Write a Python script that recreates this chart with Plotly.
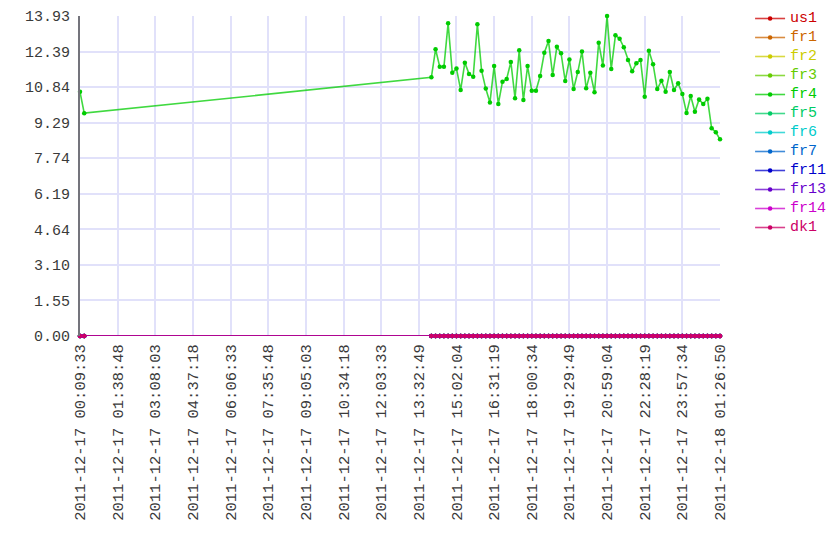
import plotly.graph_objects as go

series_names = ["us1", "fr1", "fr2", "fr3", "fr4", "fr5", "fr6", "fr7", "fr11", "fr13", "fr14", "dk1"]
series_colors = ["#cc0000", "#cc6600", "#cccc00", "#66cc00", "#00cc00", "#00cc66",
                 "#00cccc", "#0066cc", "#0000cc", "#6600cc", "#cc00cc", "#cc0066"]

times = [
    "2011-12-17 00:09:33", "2011-12-17 00:19:33",
    "2011-12-17 14:02:35", "2011-12-17 14:12:30", "2011-12-17 14:22:25", "2011-12-17 14:32:20",
    "2011-12-17 14:42:15", "2011-12-17 14:52:10", "2011-12-17 15:02:05", "2011-12-17 15:12:00",
    "2011-12-17 15:21:55", "2011-12-17 15:31:50", "2011-12-17 15:41:45", "2011-12-17 15:51:40",
    "2011-12-17 16:01:35", "2011-12-17 16:11:30", "2011-12-17 16:21:25", "2011-12-17 16:31:20",
    "2011-12-17 16:41:15", "2011-12-17 16:51:10", "2011-12-17 17:01:05", "2011-12-17 17:11:00",
    "2011-12-17 17:20:55", "2011-12-17 17:30:50", "2011-12-17 17:40:45", "2011-12-17 17:50:40",
    "2011-12-17 18:00:35", "2011-12-17 18:10:30", "2011-12-17 18:20:25", "2011-12-17 18:30:20",
    "2011-12-17 18:40:15", "2011-12-17 18:50:10", "2011-12-17 19:00:05", "2011-12-17 19:10:00",
    "2011-12-17 19:19:55", "2011-12-17 19:29:50", "2011-12-17 19:39:45", "2011-12-17 19:49:40",
    "2011-12-17 19:59:35", "2011-12-17 20:09:30", "2011-12-17 20:19:25", "2011-12-17 20:29:20",
    "2011-12-17 20:39:15", "2011-12-17 20:49:10", "2011-12-17 20:59:05", "2011-12-17 21:09:00",
    "2011-12-17 21:18:55", "2011-12-17 21:28:50", "2011-12-17 21:38:45", "2011-12-17 21:48:40",
    "2011-12-17 21:58:35", "2011-12-17 22:08:30", "2011-12-17 22:18:25", "2011-12-17 22:28:20",
    "2011-12-17 22:38:15", "2011-12-17 22:48:10", "2011-12-17 22:58:05", "2011-12-17 23:08:00",
    "2011-12-17 23:17:55", "2011-12-17 23:27:50", "2011-12-17 23:37:45", "2011-12-17 23:47:40",
    "2011-12-17 23:57:35", "2011-12-18 00:07:30", "2011-12-18 00:17:25", "2011-12-18 00:27:20",
    "2011-12-18 00:37:15", "2011-12-18 00:47:10", "2011-12-18 00:57:05", "2011-12-18 01:07:00",
    "2011-12-18 01:16:55", "2011-12-18 01:26:50",
]

fr4_values = [
    10.63, 9.70,
    11.26, 12.48, 11.72, 11.72, 13.61, 11.46, 11.64, 10.71, 11.90, 11.41,
    11.29, 13.57, 11.55, 10.77, 10.16, 11.75, 10.10, 11.07, 11.19, 11.93,
    10.35, 12.44, 10.27, 11.75, 10.68, 10.68, 11.32, 12.33, 12.84, 11.36,
    12.59, 12.31, 11.10, 12.04, 10.75, 11.49, 12.39, 10.78, 11.46, 10.61,
    12.77, 11.77, 13.93, 11.62, 13.09, 12.94, 12.57, 12.01, 11.52, 11.87,
    12.01, 10.42, 12.42, 11.83, 10.75, 11.11, 10.63, 11.49, 10.71, 11.00,
    10.53, 9.71, 10.45, 9.76, 10.30, 10.10, 10.33, 9.04, 8.87, 8.56,
]
zero_values = [0.0] * len(times)

x_tick_vals = [
    "2011-12-17 00:09:33", "2011-12-17 01:38:48", "2011-12-17 03:08:03", "2011-12-17 04:37:18",
    "2011-12-17 06:06:33", "2011-12-17 07:35:48", "2011-12-17 09:05:03", "2011-12-17 10:34:18",
    "2011-12-17 12:03:33", "2011-12-17 13:32:49", "2011-12-17 15:02:04", "2011-12-17 16:31:19",
    "2011-12-17 18:00:34", "2011-12-17 19:29:49", "2011-12-17 20:59:04", "2011-12-17 22:28:19",
    "2011-12-17 23:57:34", "2011-12-18 01:26:50",
]
y_tick_vals = [0.0, 1.548, 3.096, 4.643, 6.191, 7.739, 9.287, 10.834, 12.382, 13.93]
y_tick_text = ["0.00", "1.55", "3.10", "4.64", "6.19", "7.74", "9.29", "10.84", "12.39", "13.93"]


def rgba(hexc, a):
    h = hexc.lstrip("#")
    r, g, b = int(h[0:2], 16), int(h[2:4], 16), int(h[4:6], 16)
    return f"rgba({r},{g},{b},{a})"


FONT = "Liberation Mono, DejaVu Sans Mono, monospace"

fig = go.Figure()
for name, col in zip(series_names, series_colors):
    vals = fr4_values if name == "fr4" else zero_values
    fig.add_trace(go.Scatter(
        x=times, y=vals, mode="lines+markers",
        name=(f'<span style="color:{col};font-size:15px;'
              f'font-family:Liberation Mono,monospace">{name}</span>'),
        line=dict(color=rgba(col, 0.75), width=1.6),
        marker=dict(color=col, size=4.5),
        cliponaxis=False,
    ))

fig.update_layout(
    width=832, height=552,
    margin=dict(l=72, r=120, t=8, b=224, autoexpand=False),
    paper_bgcolor="white", plot_bgcolor="white",
    font=dict(family=FONT, size=15, color="#3a3a3a"),
    showlegend=True,
    legend=dict(x=1.047, xanchor="left", y=1.0375, yanchor="top",
                font=dict(family=FONT, size=10),
                bgcolor="rgba(0,0,0,0)", borderwidth=0, tracegroupgap=0,
                itemwidth=30),
    xaxis=dict(
        type="date",
        range=[x_tick_vals[0], x_tick_vals[-1]],
        tickmode="array", tickvals=x_tick_vals, ticktext=x_tick_vals,
        tickangle=-90, ticklabelstandoff=4,
        showgrid=True, gridcolor="#e1e1fa", gridwidth=1.5,
        showline=False, zeroline=False, ticks="",
        tickfont=dict(family=FONT, size=15.5, color="#3a3a3a"),
    ),
    yaxis=dict(
        range=[0, 13.93],
        tickmode="array", tickvals=y_tick_vals, ticktext=y_tick_text,
        ticklabelstandoff=5,
        showgrid=True, gridcolor="#e1e1fa", gridwidth=1.5,
        showline=True, linecolor="#74747c", linewidth=2,
        zeroline=False, ticks="",
        tickfont=dict(family=FONT, size=15, color="#3a3a3a"),
    ),
)

fig.write_html("out.html")
